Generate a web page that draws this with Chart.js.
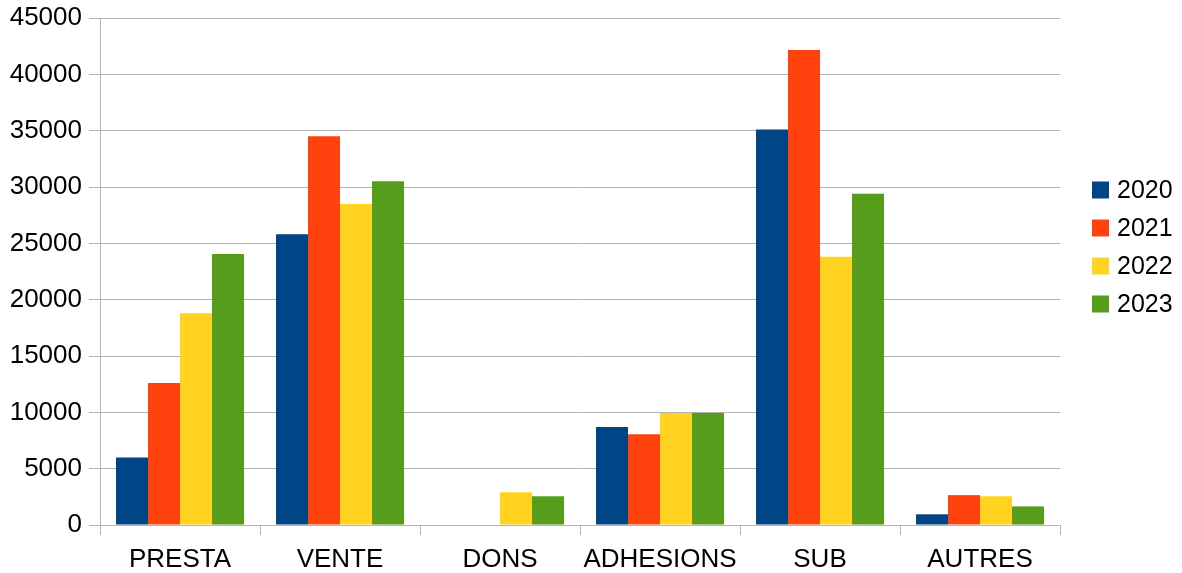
<!DOCTYPE html>
<html>
<head>
<meta charset="utf-8">
<script src="https://cdn.jsdelivr.net/npm/chart.js@4/dist/chart.umd.min.js"></script>
<style>
  html, body { margin: 0; padding: 0; background: #fff; }
  #wrap { width: 1182px; height: 573px; }
</style>
</head>
<body>
<div id="wrap"><canvas id="chart"></canvas></div>
<script>
const categories = ['PRESTA', 'VENTE', 'DONS', 'ADHESIONS', 'SUB', 'AUTRES'];
const years = ['2020', '2021', '2022', '2023'];
const values2020 = [6000, 25800, null, 8700, 35100, 950];
const values2021 = [12600, 34500, null, 8050, 42150, 2650];
const values2022 = [18800, 28500, 2900, 9950, 23800, 2550];
const values2023 = [24050, 30500, 2550, 9950, 29400, 1650];
const colors = ['#004586', '#ff420e', '#ffd320', '#579d1c'];
const yTicks = [0, 5000, 10000, 15000, 20000, 25000, 30000, 35000, 40000, 45000];

const FONT = "'Liberation Sans', Arial, sans-serif";
const gridColor = '#b3b3b3';

// legend drawn by hand so the spacing can follow the picture
const sideLegend = {
  id: 'sideLegend',
  afterDraw(chart) {
    const c = chart.ctx;
    const x = chart.chartArea.right + 32;
    c.save();
    c.font = '25px ' + FONT;
    c.textBaseline = 'middle';
    chart.data.datasets.forEach((ds, i) => {
      const y = 190 + 38 * i;
      c.fillStyle = ds.backgroundColor;
      c.fillRect(x, y - 8.5, 17, 17);
      c.fillStyle = '#000';
      c.fillText(ds.label, x + 25, y + 1);
    });
    c.restore();
  },
};

const ctx = document.getElementById('chart').getContext('2d');
new Chart(ctx, {
  type: 'bar',
  data: {
    labels: categories,
    datasets: [values2020, values2021, values2022, values2023].map((vals, i) => ({
      label: years[i],
      data: vals,
      backgroundColor: colors[i],
      borderWidth: 0,
      categoryPercentage: 0.8,
      barPercentage: 1.0,
    })),
  },
  options: {
    responsive: true,
    maintainAspectRatio: false,
    animation: false,
    layout: { padding: { top: 18, right: 122, bottom: 0, left: 0 } },
    plugins: {
      legend: { display: false },
      tooltip: { enabled: false },
    },
    scales: {
      x: {
        afterFit: (scale) => {
          scale.height = 48;
          scale.paddingLeft = 0;
          scale.paddingRight = 0;
        },
        grid: {
          offset: true,
          drawOnChartArea: true,
          color: (c) => (c.index === categories.length ? '#d6d6d6' : 'rgba(0,0,0,0)'),
          tickColor: gridColor,
          tickLength: 10,
        },
        border: { color: gridColor },
        ticks: {
          color: '#000',
          font: { family: FONT, size: 26 },
          padding: 9,
        },
      },
      y: {
        min: 0,
        max: 45000,
        afterFit: (scale) => {
          scale.width = 100;
          scale.paddingTop = 0;
          scale.paddingBottom = 0;
        },
        afterBuildTicks: (scale) => { scale.ticks = yTicks.map((v) => ({ value: v })); },
        grid: { color: gridColor, tickLength: 11 },
        border: { color: gridColor },
        ticks: {
          color: '#000',
          font: { family: FONT, size: 26 },
          padding: 7,
          callback: (v) => String(v),
        },
      },
    },
  },
  plugins: [sideLegend],
});
</script>
</body>
</html>
